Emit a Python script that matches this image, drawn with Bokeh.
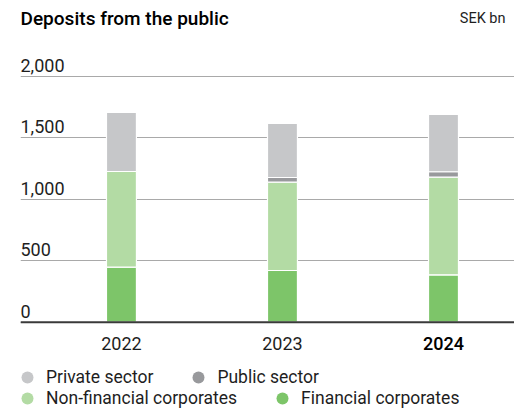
from bokeh.plotting import figure
from bokeh.models import ColumnDataSource, Range1d, FixedTicker, Label, Legend, LegendItem, Span
from bokeh.embed import file_html
from bokeh.resources import INLINE

# ---- data (SEK bn) ----
years = ["2022", "2023", "2024"]
financial = [447, 420, 385]
non_financial = [778, 718, 794]
public_sector = [0, 38, 44]
private_sector = [480, 439, 466]
y_ticks = [0, 500, 1000, 1500, 2000]
y_tick_labels = ["0", "500", "1,000", "1,500", "2,000"]
series_names = ["Financial corporates", "Non-financial corporates", "Public sector", "Private sector"]
series_keys = ["fin", "nonfin", "pub", "priv"]
colors = ["#7dc569", "#b3dba4", "#98999c", "#c6c7c9"]

FONT = "Roboto"
FONT_MED = "'Roboto Medium', Roboto"
TXT = "#1e1e1e"
W, H = 514, 409

src = ColumnDataSource(dict(
    x=list(range(len(years))),
    fin=financial, nonfin=non_financial, pub=public_sector, priv=private_sector,
))

# frame spans full height; value axis: 0 at y=322px, 500 units per 61.5px
p = figure(width=W, height=H, output_backend="svg", toolbar_location=None,
           x_range=Range1d(-0.627, 2.441), y_range=Range1d(-710, 2615),
           min_border_left=20, min_border_right=0, min_border_top=0, min_border_bottom=0)
p.outline_line_color = None
p.background_fill_color = "white"
p.border_fill_color = "white"

p.yaxis.visible = False
p.xaxis.visible = False
p.xgrid.visible = False
p.ygrid.ticker = FixedTicker(ticks=y_ticks)
p.ygrid.grid_line_color = "#a9a9a9"
p.ygrid.grid_line_width = 1.2

p.vbar_stack(series_keys, x="x", width=0.186, source=src, color=colors,
             line_color="white", line_width=1.2)

p.add_layout(Span(location=0, dimension="width", line_color="#3a3a3a", line_width=2))

# y tick labels above gridlines
for v, t in zip(y_ticks, y_tick_labels):
    p.add_layout(Label(x=0, x_units="screen", y=v, y_units="data", y_offset=11,
                       text=t, text_font=FONT, text_font_size="18px", text_color=TXT,
                       text_align="left", text_baseline="middle"))

# x category labels
for i, yr in enumerate(years):
    last = i == len(years) - 1
    p.add_layout(Label(x=i, x_units="data", y=0, y_units="data", y_offset=-21,
                       text=yr, text_font=FONT_MED if last else FONT, text_font_size="18px",
                       text_color="#000000" if last else TXT,
                       text_align="center", text_baseline="middle"))

# title and unit
p.add_layout(Label(x=0, x_units="screen", y=H - 18, y_units="screen",
                   text="Deposits from the public", text_font=FONT_MED, text_font_size="19px",
                   text_color="#000000", text_align="left", text_baseline="middle"))
p.add_layout(Label(x=485, x_units="screen", y=H - 18, y_units="screen",
                   text="SEK bn", text_font=FONT, text_font_size="14.5px",
                   text_color=TXT, text_align="right", text_baseline="middle"))

# legend (circle markers); NaN points keep the legend glyphs without drawing marks
nan = float("nan")
dummies = {}
for k, c in zip(series_keys, colors):
    dummies[k] = p.scatter(x=[nan], y=[nan], marker="circle", size=12, fill_color=c, line_color=None)

def make_legend(keys, loc):
    items = [LegendItem(label=series_names[series_keys.index(k)], renderers=[dummies[k]]) for k in keys]
    lg = Legend(items=items, orientation="horizontal", location=loc,
                glyph_width=30, glyph_height=30, label_standoff=4, spacing=30,
                padding=0, margin=0, border_line_color=None, background_fill_alpha=0,
                label_text_font=FONT, label_text_font_size="17.5px", label_text_color=TXT)
    p.add_layout(lg, "center")

make_legend(["priv", "pub"], (-8, 17))
make_legend(["nonfin", "fin"], (-8, -4))

open("out.html", "w").write(file_html(p, INLINE))
